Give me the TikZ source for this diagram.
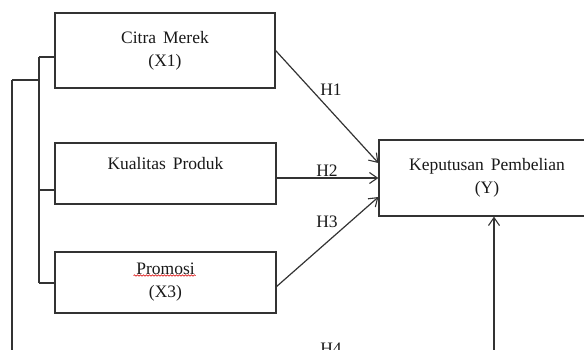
\documentclass[tikz,border=0pt]{standalone}
\usepackage{fontspec}
\setmainfont[WordSpace={1.6,1,1}]{Liberation Serif}
\usetikzlibrary{arrows.meta,decorations.pathmorphing}
\begin{document}
\begin{tikzpicture}[x=1pt, y=-1pt, font=\fontsize{17.5}{23}\selectfont,
  garis/.style={draw=black!80, line width=1.2pt},
  box/.style={garis, align=center, text=black!90, inner sep=0pt},
  panah/.style={garis, -{Straight Barb[length=8pt,width=11pt,line width=1.1pt]}},
  hip/.style={text=black!90}]
  \useasboundingbox (0,0) rectangle (584,349);
  \clip (0,0) rectangle (584,349);
  % variabel bebas
  \node[box, minimum width=220pt, minimum height=75pt] (x1) at (165,50.5) {Citra Merek\\(X1)};
  \node[box, minimum width=221pt, minimum height=61pt, text height=12pt, text depth=21pt] (x2) at (165.5,173.5) {Kualitas Produk};
  \node[box, minimum width=221pt, minimum height=61pt] (x3) at (165.5,282.5) {Promosi\\(X3)};
  % variabel terikat
  \node[box, minimum width=216pt, minimum height=76pt] (y) at (487,178) {Keputusan Pembelian\\(Y)};
  % garis merah ejaan
  \draw[red!85!black, line width=0.6pt, decorate, decoration={snake, amplitude=0.7pt, segment length=3pt}]
    ([xshift=-32pt,yshift=7pt]x3.center) -- ([xshift=30pt,yshift=7pt]x3.center);
  % kurung kiri
  \coordinate (k1) at (39,57);
  \coordinate (k2) at (39,190);
  \coordinate (k3) at (39,283);
  \coordinate (kiri) at (12,80);
  \coordinate (bawah) at (12,362);
  \draw[garis] (k1) -- (k3);
  \draw[garis] (k1) -- (k1 -| x1.west);
  \draw[garis] (k2) -- (k2 -| x2.west);
  \draw[garis] (k3) -- (k3 -| x3.west);
  \draw[garis] (kiri) -- (kiri -| k1);
  % panah hipotesis
  \draw[panah] (x1.east) -- ([yshift=15pt]y.west);
  \draw[panah] ([yshift=-4.5pt]x2.east) -- (y.west);
  \draw[panah] ([yshift=-4pt]x3.east) -- ([yshift=-19pt]y.west);
  \draw[panah] (kiri) -- (bawah) -| ([xshift=7pt]y.south);
  \node[hip] at (331,90) {H1};
  \node[hip] at (327,171) {H2};
  \node[hip] at (327,222) {H3};
  \node[hip] at (331,349) {H4};
\end{tikzpicture}
\end{document}
